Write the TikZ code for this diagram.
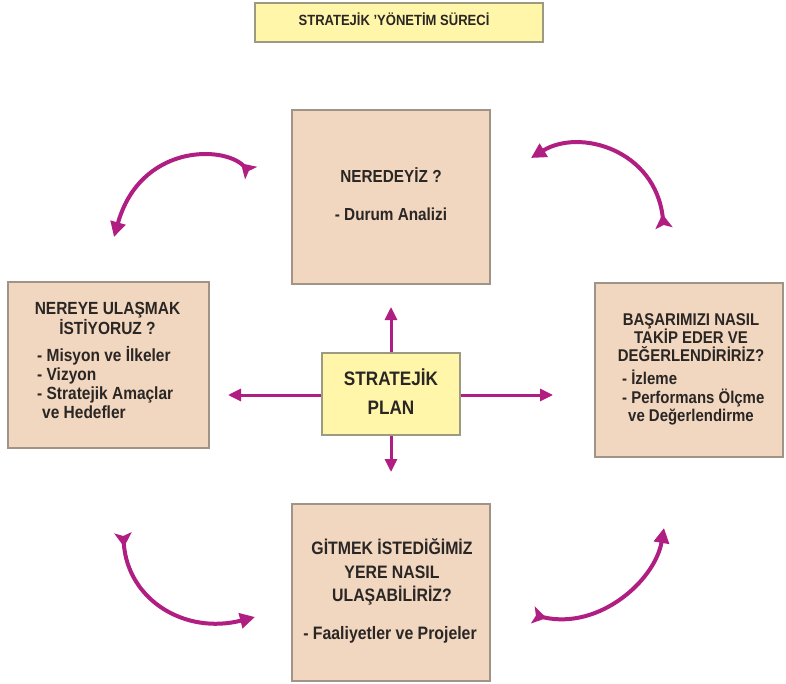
\documentclass[tikz,border=0pt]{standalone}
\usepackage{fontspec}
\setmainfont{Liberation Sans}[FakeStretch=0.88]
\usetikzlibrary{arrows.meta}
\definecolor{peach}{HTML}{F1D6C0}
\definecolor{peachline}{HTML}{A09488}
\definecolor{lemon}{HTML}{FFF6AA}
\definecolor{lemonline}{HTML}{9C9A80}
\definecolor{mag}{HTML}{B01E82}
\definecolor{txt}{HTML}{2A2624}
\begin{document}
\begin{tikzpicture}[x=1pt,y=-1pt,
  pbox/.style={draw=peachline, fill=peach, line width=1.8pt, inner sep=0pt},
  ybox/.style={draw=lemonline, fill=lemon, line width=1.5pt, inner sep=0pt},
  ln/.style={inner sep=0pt, anchor=base, text=txt},
  lnl/.style={ln, anchor=base west},
  fT/.style={font=\fontsize{14.8}{16}\selectfont\bfseries},
  fA/.style={font=\fontsize{17.4}{19}\selectfont\bfseries},
  fL/.style={font=\fontsize{17.6}{19}\selectfont\bfseries},
  fR/.style={font=\fontsize{17}{18}\selectfont\bfseries},
  fB/.style={font=\fontsize{18}{20}\selectfont\bfseries},
  fC/.style={font=\fontsize{19.5}{22}\selectfont\bfseries},
  sarrow/.style={draw=mag, line width=3pt, -{Triangle[length=13pt,width=12pt]}},
  carrow/.style={draw=mag, line width=4pt,
     {Stealth[reversed,length=14pt,width=17pt,inset=3pt]}-{Triangle[length=15pt,width=15pt]}}
]
\useasboundingbox (0,0) rectangle (786,684);
\fill[white] (0,0) rectangle (786,684);

% title
\node[ybox, minimum width=288pt, minimum height=39pt] (title) at (399,22.5) {};
\node[ln, fT] (titletxt) at (394,26) {STRATEJİK 'YÖNETİM SÜRECİ};

% boxes
\node[pbox, minimum width=198pt, minimum height=174pt] (top) at (391,197) {};
\node[pbox, minimum width=201pt, minimum height=166pt] (left) at (108.5,365) {};
\node[pbox, minimum width=188pt, minimum height=174pt] (right) at (689,370) {};
\node[pbox, minimum width=198pt, minimum height=177pt] (bottom) at (391,592.5) {};
\node[ybox, minimum width=138pt, minimum height=82pt] (sp) at (391,394) {};

% top text
\node[ln, fA] (t1) at (391,183) {NEREDEYİZ ?};
\node[ln, fA] (t2) at (391,221) {- Durum Analizi};

% left text
\node[ln, fL] (l1) at (107.5,314) {NEREYE ULAŞMAK};
\node[ln, fL] (l2) at (107.5,334) {İSTİYORUZ ?};
\node[lnl, fL] (l3) at (37,361) {- Misyon ve İlkeler};
\node[lnl, fL] (l4) at (37,380) {- Vizyon};
\node[lnl, fL] (l5) at (37,399) {- Stratejik Amaçlar};
\node[lnl, fL] (l6) at (42,418) {ve Hedefler};

% right text
\node[ln, fR] (r1) at (691,325) {BAŞARIMIZI NASIL};
\node[ln, fR] (r2) at (691,343) {TAKİP EDER VE};
\node[ln, fR] (r3) at (691,361) {DEĞERLENDİRİRİZ?};
\node[lnl, fR] (r4) at (622,384) {- İzleme};
\node[lnl, fR] (r5) at (622,403) {- Performans Ölçme};
\node[lnl, fR] (r6) at (628,421) {ve Değerlendirme};

% bottom text
\node[ln, fB] (b1) at (392,554) {GİTMEK İSTEDİĞİMİZ};
\node[ln, fB] (b2) at (392,578) {YERE NASIL};
\node[ln, fB] (b3) at (392,601) {ULAŞABİLİRİZ?};
\node[ln, fB] (b4) at (390,639) {- Faaliyetler ve Projeler};

% center text
\node[ln, fC] (c1) at (391,385) {STRATEJİK};
\node[ln, fC] (c2) at (391,414) {PLAN};

% straight arrows
\coordinate (au) at (391,307);
\coordinate (ad) at (391,472);
\coordinate (al) at (228,395);
\coordinate (ar) at (553,395);
\draw[sarrow] (sp.north) -- (au);
\draw[sarrow] (sp.south) -- (ad);
\draw[sarrow] (sp.west |- al) -- (al);
\draw[sarrow] (sp.east |- ar) -- (ar);

% curved arrows
\coordinate (tl1) at (251,173);
\coordinate (tl2) at (114,237);
\draw[carrow] (tl1) .. controls (222,145) and (140,145) .. (tl2);

\coordinate (tr1) at (664,228);
\coordinate (tr2) at (531,158);
\draw[carrow] (tr1) .. controls (655,150) and (580,128) .. (tr2);

\coordinate (bl1) at (123,533);
\coordinate (bl2) at (255,617);
\draw[carrow] (bl1) .. controls (128,600) and (185,635) .. (bl2);

\coordinate (br1) at (533,615);
\coordinate (br2) at (664,528);
\draw[carrow] (br1) .. controls (600,630) and (655,580) .. (br2);
\end{tikzpicture}
\end{document}
